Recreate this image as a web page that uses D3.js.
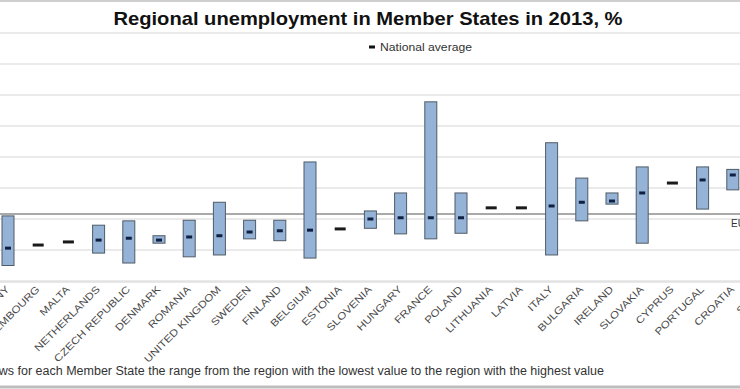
<!DOCTYPE html>
<html>
<head>
<meta charset="utf-8">
<script src="https://cdn.jsdelivr.net/npm/d3@7"></script>
<style>
  html, body { margin: 0; padding: 0; background: #fff; }
  svg { display: block; font-family: Arial, "Liberation Sans", sans-serif; }
</style>
</head>
<body>
<div id="chart"></div>
<script>
// Regional unemployment in Member States, 2013 (%): range lowest–highest region + national average

const countries = ['AUSTRIA', 'GERMANY', 'LUXEMBOURG', 'MALTA', 'NETHERLANDS', 'CZECH REPUBLIC', 'DENMARK',
  'ROMANIA', 'UNITED KINGDOM', 'SWEDEN', 'FINLAND', 'BELGIUM', 'ESTONIA', 'SLOVENIA', 'HUNGARY', 'FRANCE',
  'POLAND', 'LITHUANIA', 'LATVIA', 'ITALY', 'BULGARIA', 'IRELAND', 'SLOVAKIA', 'CYPRUS', 'PORTUGAL',
  'CROATIA', 'SPAIN', 'GREECE']

// null = single region (only the national average is drawn)
const regionMin = [3.1, 2.5, null, null, 4.5, 2.9, 6.1, 3.9, 4.2, 6.8, 6.5, 3.7, null, 8.5, 7.6, 6.8,
  7.7, null, null, 4.2, 9.7, 12.4, 6.1, null, 11.6, 14.7, 15.9, 19.5]
const regionMax = [8.1, 10.5, null, null, 9.0, 9.7, 7.3, 9.8, 12.7, 9.8, 9.8, 19.2, null, 11.3, 14.2, 28.9,
  14.2, null, null, 22.3, 16.6, 14.2, 18.4, null, 18.4, 18.0, 36.3, 31.3]
const nationalAvg = [4.9, 5.3, 5.8, 6.3, 6.6, 6.9, 6.6, 7.1, 7.3, 7.9, 8.1, 8.2, 8.4, 10.0, 10.2, 10.2,
  10.2, 11.8, 11.8, 12.1, 12.7, 12.9, 14.2, 15.8, 16.3, 17.1, 26.1, 27.5]
const euAverage = 10.8
const yTicks = [0, 5, 10, 15, 20, 25, 30, 35, 40]

const width = 740, height = 389

const svg = d3.select('#chart')
  .append('svg')
  .attr('width', width)
  .attr('height', height)
  .style('overflow', 'hidden')

svg.append('rect').attr('width', width).attr('height', height).attr('fill', '#fff')

// the picture is a crop of a wider chart: Austria and Spain/Greece fall outside
const x = d3.scalePoint().domain(countries).range([-22.2, 793.2])
const y = d3.scaleLinear().domain([0, 40]).range([281, 33])

// gridlines
svg.append('g')
  .selectAll('line')
  .data(yTicks)
  .join('line')
  .attr('x1', 0)
  .attr('x2', width)
  .attr('y1', d => y(d))
  .attr('y2', d => y(d))
  .attr('stroke', '#e3e3e3')
  .attr('stroke-width', 1.5)

// EU average line
svg.append('line')
  .attr('x1', 0).attr('x2', width)
  .attr('y1', y(euAverage)).attr('y2', y(euAverage))
  .attr('stroke', '#8c8c8c')
  .attr('stroke-width', 1.6)

svg.append('text')
  .attr('x', 731)
  .attr('y', y(euAverage) + 13)
  .attr('font-size', 10)
  .attr('fill', '#333')
  .text('EU-28')

const rows = countries.map((c, i) => ({ c, lo: regionMin[i], hi: regionMax[i], avg: nationalAvg[i] }))
const barW = 12

// range boxes
svg.append('g')
  .selectAll('rect')
  .data(rows.filter(d => d.lo != null))
  .join('rect')
  .attr('x', d => x(d.c) - barW / 2)
  .attr('y', d => y(d.hi))
  .attr('width', barW)
  .attr('height', d => y(d.lo) - y(d.hi))
  .attr('fill', '#95b3d7')
  .attr('stroke', '#4f5b66')
  .attr('stroke-width', 1)

// national average markers
svg.append('g')
  .selectAll('rect')
  .data(rows)
  .join('rect')
  .attr('x', d => x(d.c) - (d.lo == null ? 5.5 : 3))
  .attr('y', d => y(d.avg) - 1.5)
  .attr('width', d => d.lo == null ? 11 : 6)
  .attr('height', 3)
  .attr('fill', d => d.lo == null ? '#1a1a1a' : '#102040')

// axis line at 0
svg.append('line')
  .attr('x1', 0).attr('x2', width)
  .attr('y1', y(0) + 1).attr('y2', y(0) + 1)
  .attr('stroke', '#e0e0e0')
  .attr('stroke-width', 1.5)

// category labels, rotated 45° and a little wide like the source
svg.append('g')
  .selectAll('text')
  .data(countries)
  .join('text')
  .attr('transform', d => `translate(${x(d) + 2},${y(0) + 9}) rotate(-45) scale(1.18,1)`)
  .attr('text-anchor', 'end')
  .attr('font-size', 10)
  .attr('fill', '#4a4a4a')
  .text(d => d)

// title
svg.append('text')
  .attr('x', 368)
  .attr('y', 25)
  .attr('text-anchor', 'middle')
  .attr('font-size', 19)
  .attr('font-weight', 'bold')
  .attr('fill', '#111')
  .attr('textLength', 509)
  .attr('lengthAdjust', 'spacingAndGlyphs')
  .text('Regional unemployment in Member States in 2013, %')

// legend
svg.append('rect')
  .attr('x', 369).attr('y', 45.5)
  .attr('width', 6).attr('height', 3)
  .attr('fill', '#111')
svg.append('text')
  .attr('x', 380)
  .attr('y', 50.5)
  .attr('font-size', 10)
  .attr('fill', '#333')
  .attr('textLength', 92)
  .attr('lengthAdjust', 'spacingAndGlyphs')
  .text('National average')

// footnote
svg.append('text')
  .attr('x', 604)
  .attr('y', 375)
  .attr('text-anchor', 'end')
  .attr('font-size', 12.5)
  .attr('fill', '#333')
  .text('The bar shows for each Member State the range from the region with the lowest value to the region with the highest value')

// frame lines of the crop
svg.append('line').attr('x1', 0).attr('x2', width).attr('y1', 1).attr('y2', 1)
  .attr('stroke', '#cfcfcf').attr('stroke-width', 2)
svg.append('line').attr('x1', 0).attr('x2', width).attr('y1', 387).attr('y2', 387)
  .attr('stroke', '#bdbdbd').attr('stroke-width', 3)
</script>
</body>
</html>
